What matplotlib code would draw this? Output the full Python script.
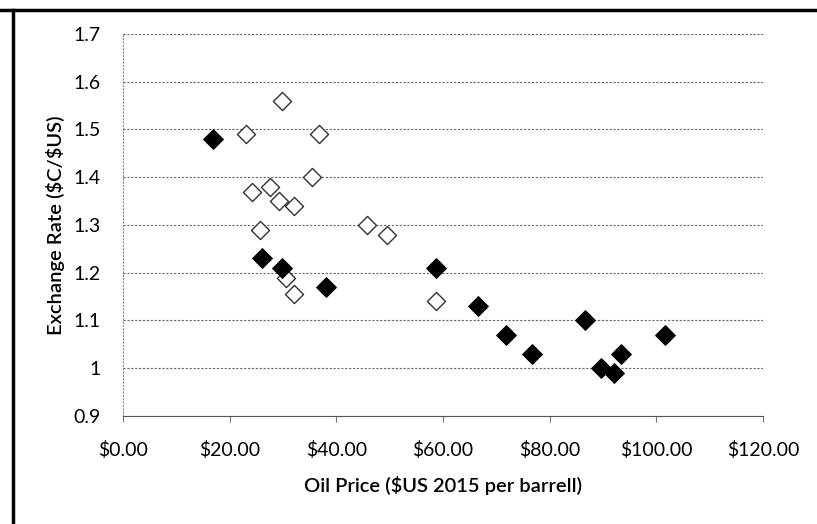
# Scatter of CAD/USD exchange rate against real oil price
import matplotlib.pyplot as plt
from matplotlib.lines import Line2D

# light (hollow-looking) series
oil_light = [23.0, 29.9, 36.8, 35.5, 24.1, 27.5, 29.3, 32.1, 25.6, 45.8, 49.5, 30.6, 32.1, 58.7]
fx_light = [1.49, 1.56, 1.49, 1.40, 1.37, 1.38, 1.35, 1.34, 1.29, 1.30, 1.28, 1.19, 1.155, 1.14]

# dark (filled) series
oil_dark = [16.8, 26.0, 29.9, 38.1, 58.7, 66.5, 71.8, 76.6, 86.7, 89.7, 92.1, 93.3, 101.7]
fx_dark = [1.48, 1.23, 1.21, 1.17, 1.21, 1.13, 1.07, 1.03, 1.10, 1.00, 0.99, 1.03, 1.07]

xticks = [0, 20, 40, 60, 80, 100, 120]
yticks = [0.9, 1.0, 1.1, 1.2, 1.3, 1.4, 1.5, 1.6, 1.7]
ytick_labels = ['0.9', '1', '1.1', '1.2', '1.3', '1.4', '1.5', '1.6', '1.7']

plt.rcParams['font.family'] = ['Lato', 'DejaVu Sans']

fig = plt.figure(figsize=(8.17, 5.24), dpi=100)
ax = fig.add_axes([123/817, 1 - 416/524, 640/817, 382/524])

ax.scatter(oil_light, fx_light, marker='D', s=85, facecolor='white',
           edgecolor='#333333', linewidth=1.0, zorder=3)
ax.scatter(oil_dark, fx_dark, marker='D', s=100, facecolor='black',
           edgecolor='black', linewidth=0.8, zorder=4)

ax.set_xlim(0, 120)
ax.set_ylim(0.9, 1.7)
ax.set_xticks(xticks)
ax.set_xticklabels(['${:.2f}'.format(v) for v in xticks])
ax.set_yticks(yticks)
ax.set_yticklabels(ytick_labels)
ax.tick_params(axis='x', length=4, color='#777777', labelsize=14, pad=14)
ax.tick_params(axis='y', length=0, labelsize=14, pad=16)

# dotted gridlines as in the scanned sheet
ax.yaxis.grid(True, color='#666666', linestyle=(0, (2, 1.5)), linewidth=0.8)
ax.set_axisbelow(True)
for side in ['top', 'right']:
    ax.spines[side].set_visible(False)
ax.spines['left'].set_color('#888888')
ax.spines['left'].set_linestyle((0, (1, 2)))
ax.spines['bottom'].set_color('#555555')
ax.spines['bottom'].set_linestyle((0, (3, 1)))

ax.set_xlabel('Oil Price ($US 2015 per barrell)', fontsize=14.5, fontweight='semibold', labelpad=12)
ax.set_ylabel(r'Exchange Rate (\$C/\$US)', fontsize=14.5, fontweight='semibold', labelpad=6)

# chart frame edges left by the scan
fig.add_artist(Line2D([0, 1], [1 - 10/524, 1 - 10/524], color='black', linewidth=2.5))
fig.add_artist(Line2D([13/817, 13/817], [0, 1 - 10/524], color='black', linewidth=2.5))

plt.savefig('out.png', dpi=100)
